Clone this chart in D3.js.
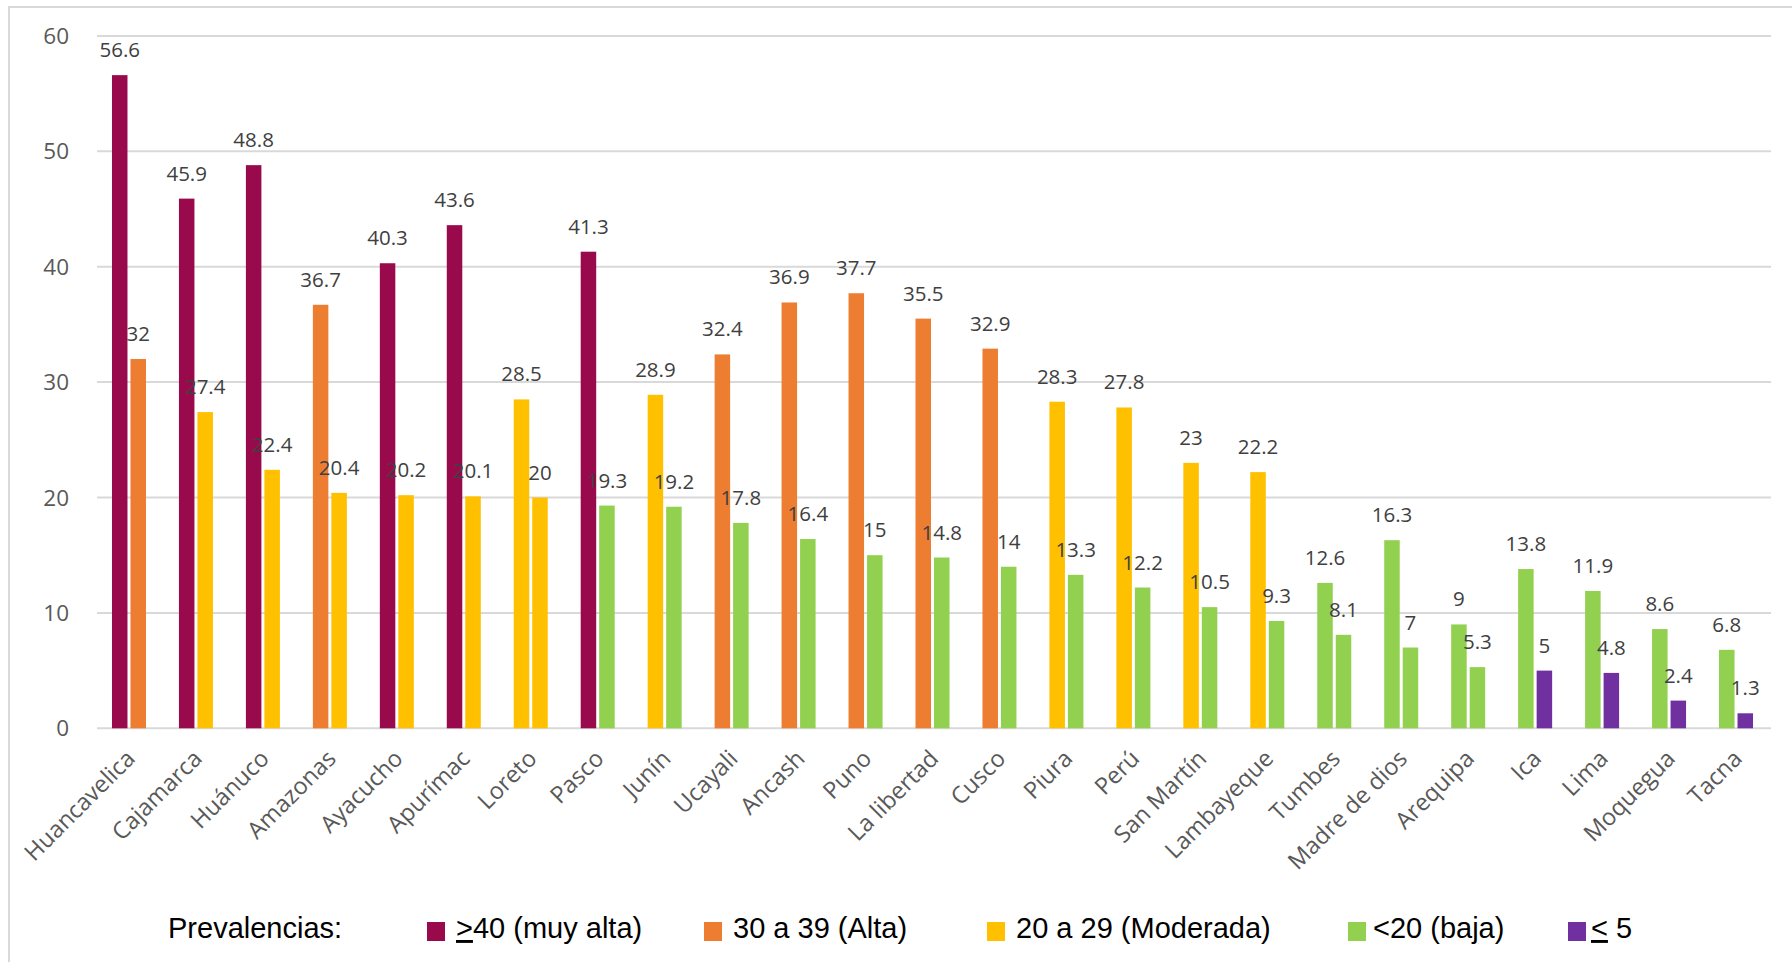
<!DOCTYPE html>
<html>
<head>
<meta charset="utf-8">
<script src="https://cdn.jsdelivr.net/npm/d3@7"></script>
<style>
  html, body { margin: 0; padding: 0; background: #fff; }
  svg { display: block; }
</style>
</head>
<body>
<div id="chart"></div>
<script>
// departments, in the order shown
const departamentos = ['Huancavelica', 'Cajamarca', 'Huánuco', 'Amazonas', 'Ayacucho', 'Apurímac', 'Loreto', 'Pasco',
  'Junín', 'Ucayali', 'Ancash', 'Puno', 'La libertad', 'Cusco', 'Piura', 'Perú', 'San Martín', 'Lambayeque',
  'Tumbes', 'Madre de dios', 'Arequipa', 'Ica', 'Lima', 'Moquegua', 'Tacna'];
// first bar of each pair
const serieA = [56.6, 45.9, 48.8, 36.7, 40.3, 43.6, 28.5, 41.3, 28.9, 32.4, 36.9, 37.7, 35.5, 32.9, 28.3, 27.8,
  23, 22.2, 12.6, 16.3, 9, 13.8, 11.9, 8.6, 6.8];
// second bar of each pair
const serieB = [32, 27.4, 22.4, 20.4, 20.2, 20.1, 20, 19.3, 19.2, 17.8, 16.4, 15, 14.8, 14, 13.3, 12.2,
  10.5, 9.3, 8.1, 7, 5.3, 5, 4.8, 2.4, 1.3];
const yTicks = [0, 10, 20, 30, 40, 50, 60];
// legend classes (lowest first), thresholds between them
const nivelLabels = ['≤ 5', '<20 (baja)', '20 a 29 (Moderada)', '30 a 39 (Alta)', '≥40 (muy alta)'];
const nivelLimites = [5.05, 20, 30, 40];
const nivelColores = ['#7030A0', '#92D050', '#FFC000', '#ED7D31', '#990A4D'];

const W = 1792, H = 962;
const svg = d3.select('#chart').append('svg').attr('width', W).attr('height', H);

// outer frame (left + top edges only are visible)
svg.append('path').attr('d', `M9,${H} V7 H${W}`)
  .attr('fill', 'none').attr('stroke', '#d9d9d9').attr('stroke-width', 2);

const x = d3.scaleBand().domain(departamentos).range([97, 1771]);
const y = d3.scaleLinear().domain([0, 60]).range([728.3, 35.9]);
const sub = d3.scaleBand().domain([0, 1]).range([-18.5, 15.5]).paddingInner(0.162);
const color = d3.scaleThreshold().domain(nivelLimites).range(nivelColores);

const font = "'Open Sans', sans-serif";

// gridlines
svg.append('g').selectAll('line').data(yTicks).join('line')
  .attr('x1', 97).attr('x2', 1771)
  .attr('y1', (d) => y(d)).attr('y2', (d) => y(d))
  .attr('stroke', '#d9d9d9').attr('stroke-width', 2);

// y tick labels
svg.append('g').selectAll('text').data(yTicks).join('text')
  .attr('x', 69).attr('y', (d) => y(d)).attr('dy', '0.36em')
  .attr('text-anchor', 'end')
  .attr('font-family', font).attr('font-size', 22.5).attr('fill', '#595959')
  .text((d) => d);

const rows = departamentos.map((dep, i) => ({ dep, vals: [serieA[i], serieB[i]] }));
const bars = rows.flatMap((r) => r.vals.map((v, k) => ({ dep: r.dep, k, v })));
const cx = (d) => x(d.dep) + x.bandwidth() / 2 + sub(d.k);

svg.append('g').selectAll('rect').data(bars).join('rect')
  .attr('x', cx)
  .attr('y', (d) => y(d.v))
  .attr('width', sub.bandwidth())
  .attr('height', (d) => y(0) - y(d.v))
  .attr('fill', (d) => color(d.v));

// data labels
svg.append('g').selectAll('text').data(bars).join('text')
  .attr('x', (d) => cx(d) + sub.bandwidth() / 2)
  .attr('y', (d) => y(d.v) - 18)
  .attr('text-anchor', 'middle')
  .attr('font-family', font).attr('font-size', 20.5).attr('fill', '#404040')
  .text((d) => d.v);

// category labels, rotated
svg.append('g').selectAll('text').data(departamentos).join('text')
  .attr('transform', (d) => `translate(${x(d) + x.bandwidth() / 2 + 6},760) rotate(-45)`)
  .attr('text-anchor', 'end')
  .attr('font-family', font).attr('font-size', 23.5).attr('fill', '#595959')
  .text((d) => d);

// legend
const legFont = "'Liberation Sans', Arial, sans-serif";
const legY = 938;
svg.append('text').attr('x', 168).attr('y', legY)
  .attr('font-family', legFont).attr('font-size', 29).attr('fill', '#000')
  .text('Prevalencias:');

const legOrder = [4, 3, 2, 1, 0];
const legSquareX = [427, 704, 987, 1348, 1568];
const legTextX = [456, 733, 1016, 1373, 1591];
legOrder.forEach((n, i) => {
  svg.append('rect').attr('x', legSquareX[i]).attr('y', 922).attr('width', 18).attr('height', 19)
    .attr('fill', nivelColores[n]);
  const t = svg.append('text').attr('x', legTextX[i]).attr('y', legY)
    .attr('font-family', legFont).attr('font-size', 29).attr('fill', '#000');
  const label = nivelLabels[n];
  if (label[0] === '≥' || label[0] === '≤') {
    t.append('tspan').attr('text-decoration', 'underline').text(label[0] === '≥' ? '>' : '<');
    t.append('tspan').text(label.slice(1));
  } else {
    t.text(label);
  }
});
</script>
</body>
</html>
